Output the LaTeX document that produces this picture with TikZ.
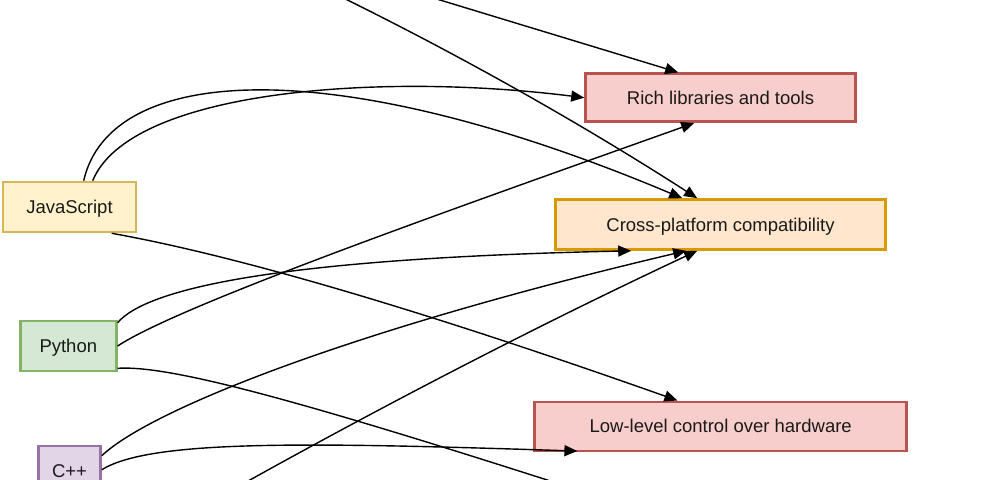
\documentclass[tikz,border=0pt]{standalone}
\usepackage{fontspec}
\setmainfont{Liberation Sans}
\usetikzlibrary{arrows.meta,calc}
\definecolor{jsfill}{HTML}{FFF2CC}\definecolor{jsline}{HTML}{D6B656}
\definecolor{pyfill}{HTML}{D5E8D4}\definecolor{pyline}{HTML}{82B366}
\definecolor{cpfill}{HTML}{E1D5E7}\definecolor{cpline}{HTML}{9673A6}
\definecolor{redfill}{HTML}{F8CECC}\definecolor{redline}{HTML}{B85450}
\definecolor{orfill}{HTML}{FFE6CC}\definecolor{orline}{HTML}{D79B00}
\begin{document}
\begin{tikzpicture}[x=1bp,y=-1bp,
  box/.style={rectangle, line width=2.6bp, inner sep=0pt,
    font=\fontsize{18.5bp}{22bp}\selectfont, text=black!90,
    text height=13.3bp, text depth=0pt},
  conn/.style={line width=1.4bp, -{Triangle[length=13bp,width=11bp]}},
  plain/.style={line width=1.4bp}]
\useasboundingbox (0,0) rectangle (1001,480);
\clip (0,0) rectangle (1001,480);
% nodes
\node[box, fill=jsfill, draw=jsline, minimum width=133bp, minimum height=50bp] (js) at (69.5,207) {JavaScript};
\node[box, fill=pyfill, draw=pyline, minimum width=96bp, minimum height=50bp] (py) at (68.3,346) {Python};
\node[box, fill=cpfill, draw=cpline, minimum width=62bp, minimum height=50bp] (cpp) at (69.5,471) {C++};
\node[box, fill=redfill, draw=redline, minimum width=270bp, minimum height=48bp] (rich) at (720.5,97.7) {Rich libraries and tools};
\node[box, fill=orfill, draw=orline, minimum width=330bp, minimum height=50bp] (cross) at (720.5,224.5) {Cross-platform compatibility};
\node[box, fill=redfill, draw=redline, minimum width=372bp, minimum height=49bp] (low) at (720.7,426.3) {Low-level control over hardware};
% free ends
\coordinate (t1) at (325,-11);
\coordinate (t2) at (407,-10);
\coordinate (b7) at (600,497);
\coordinate (b10) at (200,508);
% connectors
\draw[conn] (t1) .. controls (430,40) and (560,110) .. ($(cross.north west)+(143,0)$);
\draw[conn] (t2) -- ($(rich.north west)+(94,0)$);
\draw[conn] ($(js.north west)+(82,0)$) .. controls (110,65) and (330,50) .. ($(cross.north west)+(128,0)$);
\draw[conn] ($(js.north west)+(91,0)$) .. controls (130,90) and (380,72) .. (rich.west);
\draw[conn] ($(js.south west)+(110,0)$) .. controls (250,258) and (450,320) .. ($(low.north west)+(144,0)$);
\draw[conn] ($(py.north east)+(0,3)$) .. controls (150,285) and (300,258) .. ($(cross.south west)+(77,0)$);
\draw[conn] (py.east) .. controls (180,305) and (450,210) .. ($(rich.south west)+(110,0)$);
\draw[plain] ($(py.south east)+(0,-4)$) .. controls (170,365) and (300,400) .. (b7);
\draw[conn] ($(cpp.north east)+(0,11)$) .. controls (150,410) and (350,330) .. ($(cross.south west)+(132,0)$);
\draw[conn] ($(cpp.north east)+(0,25)$) .. controls (150,440) and (300,442) .. ($(low.south west)+(44,-1)$);
\draw[conn] (b10) .. controls (320,440) and (500,343) .. ($(cross.south west)+(143,0)$);
\end{tikzpicture}
\end{document}
